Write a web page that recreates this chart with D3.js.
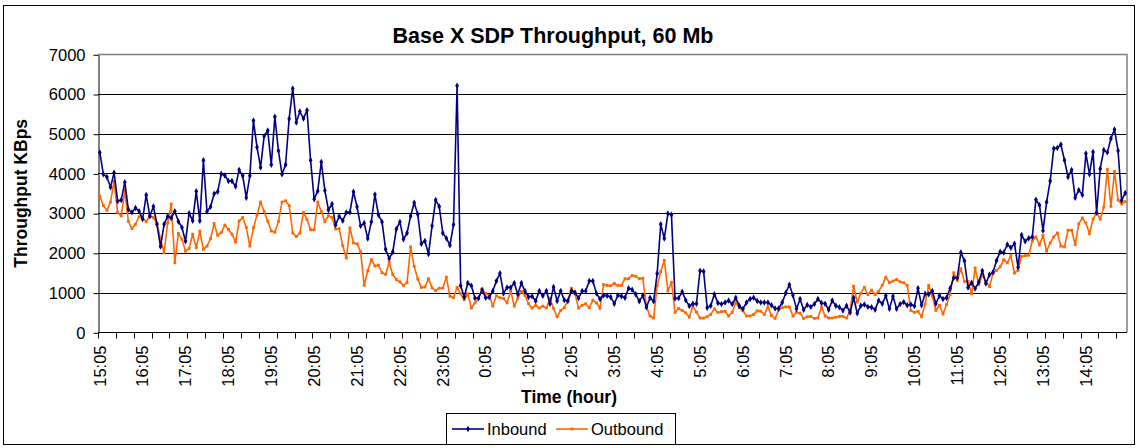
<!DOCTYPE html>
<html>
<head>
<meta charset="utf-8">
<script src="https://cdn.jsdelivr.net/npm/d3@7"></script>
<style>
  body { margin: 0; background: #fff; }
  text { font-family: Arial, "Liberation Sans", sans-serif; fill: #000; }
</style>
</head>
<body>
<svg width="1138" height="448"></svg>
<script>
const chartTitle = "Base X SDP Throughput, 60 Mb",
    xTitle = "Time (hour)",
    yTitle = "Throughput KBps",
    seriesNames = ["Inbound", "Outbound"],
    yTicks = [0, 1000, 2000, 3000, 4000, 5000, 6000, 7000],
    startTime = "15:05",
    stepMinutes = 5

// KBps, one reading every 5 minutes starting 15:05
const inbound = [
    4530, 3980, 3910, 3650, 4020, 3300, 3330, 3780, 3090, 3020, 3130, 3050, 2850, 3460, 2920, 3170, 2720, 2160, 2720, 2920,
    2880, 3050, 2790, 2640, 2290, 3000, 2810, 3550, 2810, 4330, 3040, 3160, 3490, 3540, 3990, 3950, 3810, 3810, 3670, 4090,
    3940, 3390, 3940, 5330, 4660, 4150, 4940, 5080, 4220, 5430,
    4570, 3980, 4220, 5380, 6140, 5280, 5560, 5380, 5590, 4330, 3350, 3560, 4290, 3570, 3080, 3230, 2700, 2920, 2810, 3020,
    3020, 3540, 3160, 2680, 2750, 2360, 2780, 3470, 2960, 2780, 2090, 1860, 2020, 2600, 2780, 2340, 2500, 2930, 3260, 2970,
    2230, 2300, 1970, 2680, 3330, 3170, 2500,
    2370, 2190, 2710, 6210, 1170, 890, 1240, 1170, 860, 860, 1070, 870, 880, 1040, 1290, 1490, 980, 1130, 1130, 1240,
    960, 1240, 1040, 890, 910, 790, 1040, 920, 1040, 720, 1140, 790, 1040, 810, 790, 1040, 1000, 860, 1040, 1040,
    1290, 1290, 980, 840, 930, 920, 890, 720,
    930, 910, 870, 1110, 1070, 960, 780, 930, 630, 870, 780, 1480, 2720, 2360, 2990, 2960, 850, 860, 1020, 810,
    660, 720, 720, 1550, 1530, 620, 670, 960, 740, 710, 750, 800, 710, 870, 660, 590, 750, 840, 870, 790,
    750, 750, 750, 680, 600, 600, 750, 990,
    1200, 930, 590, 840, 570, 690, 640, 710, 840, 740, 720, 570, 800, 670, 630, 550, 670, 500, 870, 480,
    670, 700, 640, 630, 570, 800, 720, 920, 590, 910, 590, 710, 760, 680, 700, 660, 1110, 680, 970, 960,
    1040, 720, 920, 840, 870, 1110, 1370,
    1370, 2010, 1800, 1130, 1250, 1100, 1260, 1550, 1230, 1450, 1510, 1810, 2030, 2010, 2210, 2130, 2230, 1640, 2450, 2290,
    2370, 2400, 3340, 3200, 2560, 3280, 3810, 4630, 4640, 4730, 4330, 3910, 4090, 3390, 3580, 3460, 4500, 3980, 4540, 3010,
    4120, 4590, 4530, 4880, 5110, 4570, 3320, 3510
]

const outbound = [
    3430, 3190, 3070, 3280, 3800, 3020, 2930, 3570, 2790, 2610, 2720, 2910, 2860, 2790, 2930, 2890, 2750, 2350, 2000, 2750,
    3230, 1750, 2490, 2340, 2040, 2110, 2470, 2130, 2550, 2090, 2170, 2360, 2740, 2440, 2510, 2700, 2590, 2470, 2270, 2800,
    2890, 2640, 2170, 2630, 2950, 3280, 3040, 2800, 2550, 2520,
    2790, 3280, 3310, 3190, 2500, 2410, 2500, 3020, 2840, 2580, 2580, 3280, 3040, 2790, 2930, 2890, 2600, 2610, 2180, 1870,
    2630, 2250, 2230, 2030, 1180, 1550, 1830, 1670, 1690, 1500, 1460, 1760, 1450, 1330, 1270, 1180, 1250, 2150, 1660, 1340,
    1130, 1140, 1350, 1120, 1050, 1110, 1110,
    1390, 910, 870, 1130, 970, 820, 970, 610, 740, 850, 1080, 980, 930, 660, 920, 870, 850, 740, 1050, 660,
    860, 1030, 930, 720, 610, 680, 610, 660, 610, 860, 600, 390, 550, 620, 800, 1110, 970, 610, 680, 720,
    620, 810, 740, 600, 1200, 1180, 1170, 1230,
    1180, 1180, 1350, 1350, 1430, 1410, 1350, 1360, 640, 410, 360, 1170, 1530, 1810, 1040, 1260, 500, 600, 550, 490,
    380, 660, 510, 360, 360, 390, 450, 590, 500, 520, 530, 410, 500, 750, 620, 540, 410, 410, 450, 540,
    530, 450, 640, 420, 350, 560, 620, 640,
    640, 410, 500, 480, 350, 390, 400, 350, 360, 640, 410, 360, 360, 380, 400, 400, 360, 550, 1160, 760,
    980, 1130, 950, 1060, 950, 1030, 1180, 1390, 1250, 1290, 1330, 1270, 1250, 1180, 550, 500, 530, 390, 710, 1180,
    920, 550, 680, 460, 700, 950, 1500,
    1300, 1600, 1280, 1280, 970, 1620, 1200, 1440, 1280, 1150, 1480, 1560, 1650, 1830, 1750, 1930, 1490, 1560, 1910, 1930,
    1940, 2300, 2400, 2200, 2440, 2040, 2250, 2400, 2500, 2170, 2150, 2570, 2570, 2210, 2730, 2880, 2750, 2480, 2850, 3020,
    2850, 3150, 4100, 3170, 4050, 3330, 3230, 3290
]

const svg = d3.select("svg"),
    width = +svg.attr("width"),
    height = +svg.attr("height"),
    plotLeft = 98,
    plotRight = 1127,
    plotTop = 54.3,
    plotBottom = 332.3

const navy = "#000080",
    orange = "#ff6600"

// category labels: 5 minute steps from the start time
const parseTime = d3.timeParse("%H:%M"),
    fmt = d3.timeFormat("%-H:%M"),
    t0 = parseTime(startTime)
const times = inbound.map((d, i) => fmt(d3.timeMinute.offset(t0, i * stepMinutes)))

const x = d3.scaleBand().domain(times).range([plotLeft, plotRight]),
    y = d3.scaleLinear().domain([0, 7000]).range([plotBottom, plotTop])
const cx = i => x(times[i]) + x.bandwidth() / 2

// outer chart frame
svg.append("rect")
    .attr("x", 3.5).attr("y", 5.5)
    .attr("width", width - 7).attr("height", height - 9)
    .attr("fill", "#fff").attr("stroke", "#000")

// gridlines
svg.append("g")
    .selectAll("line")
    .data(yTicks.filter(d => d > 0 && d < 7000))
    .enter().append("line")
    .attr("x1", plotLeft).attr("x2", plotRight)
    .attr("y1", d => Math.round(y(d)) + 0.5).attr("y2", d => Math.round(y(d)) + 0.5)
    .attr("stroke", "#000")

// plot area border, top and right in grey
svg.append("path")
    .attr("d", `M${plotLeft},${Math.round(plotTop) + 0.5}H${plotRight}V${plotBottom}`)
    .attr("fill", "none").attr("stroke", "#808080").attr("stroke-width", 1.5)

// y axis
const yAxis = svg.append("g")
    .attr("transform", `translate(${plotLeft + 0.5},0.5)`)
    .call(d3.axisLeft(y).tickValues(yTicks).tickFormat(d3.format("d"))
        .tickSize(5).tickSizeOuter(0).tickPadding(8))
yAxis.select(".domain").attr("stroke", "#000")
yAxis.selectAll("text").attr("font-size", "16.5px").attr("font-family", "Arial, 'Liberation Sans', sans-serif")

// x axis: ticks every 5 categories, labels every hour
const xAxis = svg.append("g")
    .attr("transform", `translate(0,${Math.round(plotBottom) + 0.5})`)
    .call(d3.axisBottom(x).tickValues(times.filter((d, i) => i % 12 == 0)).tickSize(0).tickSizeOuter(0))
xAxis.select(".domain").attr("stroke", "#000").attr("d", `M${plotLeft},0H${plotRight}`)
xAxis.selectAll("text")
    .attr("font-size", "16.5px")
    .attr("font-family", "Arial, 'Liberation Sans', sans-serif")
    .attr("text-anchor", "end")
    .attr("transform", "rotate(-90)")
    .attr("x", -13).attr("y", 0).attr("dy", "0.35em")

xAxis.selectAll(".minor")
    .data(times.filter((d, i) => i % 5 == 0))
    .enter().append("line")
    .attr("class", "minor")
    .attr("x1", d => Math.round(x(d)) + 0.5).attr("x2", d => Math.round(x(d)) + 0.5)
    .attr("y1", 0).attr("y2", 6)
    .attr("stroke", "#000")

// series
const line = d3.line()
    .x((d, i) => cx(i))
    .y(d => y(d))

function drawSeries(values, color, symbolType, size) {
    svg.append("path")
        .datum(values)
        .attr("d", line)
        .attr("fill", "none")
        .attr("stroke", color)
        .attr("stroke-width", 1.6)
        .attr("stroke-linejoin", "round")
    svg.append("g")
        .selectAll("path")
        .data(values)
        .enter().append("path")
        .attr("d", d3.symbol().type(symbolType).size(size))
        .attr("transform", (d, i) => `translate(${cx(i)},${y(d)})`)
        .attr("fill", color)
}
drawSeries(outbound, orange, d3.symbolSquare, 8)
drawSeries(inbound, navy, d3.symbolDiamond, 12)

// titles
svg.append("text")
    .attr("x", 553).attr("y", 43)
    .attr("text-anchor", "middle")
    .attr("font-size", "21.5px").attr("font-weight", "bold")
    .text(chartTitle)

svg.append("text")
    .attr("x", 569).attr("y", 403)
    .attr("text-anchor", "middle")
    .attr("font-size", "17.5px").attr("font-weight", "bold")
    .text(xTitle)

svg.append("text")
    .attr("transform", `translate(21,${(plotTop + plotBottom) / 2}) rotate(-90)`)
    .attr("dy", "0.35em")
    .attr("text-anchor", "middle")
    .attr("font-size", "17.5px").attr("font-weight", "bold")
    .text(yTitle)

// legend
svg.append("rect")
    .attr("x", 446.5).attr("y", 413.5)
    .attr("width", 229).attr("height", 31)
    .attr("fill", "#fff").attr("stroke", "#000")

const legendItems = [
    {name: seriesNames[0], color: navy, sym: d3.symbolDiamond, size: 12, x0: 452},
    {name: seriesNames[1], color: orange, sym: d3.symbolSquare, size: 8, x0: 556}
]
legendItems.forEach(function (d) {
    const g = svg.append("g")
    g.append("line")
        .attr("x1", d.x0).attr("x2", d.x0 + 32)
        .attr("y1", 429).attr("y2", 429)
        .attr("stroke", d.color).attr("stroke-width", 1.6)
    g.append("path")
        .attr("d", d3.symbol().type(d.sym).size(d.size))
        .attr("transform", `translate(${d.x0 + 16},429)`)
        .attr("fill", d.color)
    g.append("text")
        .attr("x", d.x0 + 35).attr("y", 435)
        .attr("font-size", "16.5px")
        .text(d.name)
})
</script>
</body>
</html>
